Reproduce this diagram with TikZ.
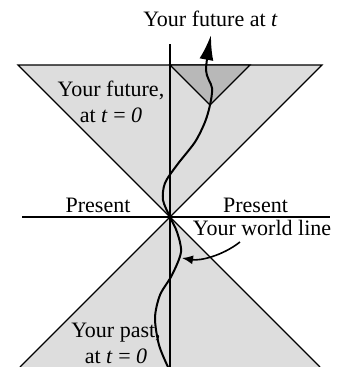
\documentclass[tikz,border=0pt]{standalone}
\usepackage{fontspec}
\setmainfont{Liberation Serif}
\usetikzlibrary{arrows.meta}

\definecolor{conelight}{RGB}{221,221,221}
\definecolor{conedark}{RGB}{184,184,184}

\begin{document}
\begin{tikzpicture}[x=1pt,y=-1pt,
cone/.style={draw,fill=conelight,line width=1.2pt,line join=miter},
axis/.style={line width=2.2pt},
lbl/.style={anchor=base,inner sep=0pt,font=\fontsize{22}{26}\selectfont,align=center},
wline/.style={line width=2pt,-{Latex[length=25pt,width=14pt]}},
arr/.style={line width=1.6pt,-{Latex[length=11pt,width=9pt]}}]
\useasboundingbox (0,0) rectangle (340,367);
\coordinate (origin) at (170,217);
\coordinate (later) at (210,105);
% light cones
\draw[cone] (origin) -- (18,65) -- (322,65) -- cycle;
\fill[conelight] (origin) -- (20,367) -- (320,367) -- cycle;
\draw[line width=1.2pt] (20,367) -- (origin) -- (320,367);
\draw[cone,fill=conedark] (later) -- (170,65) -- (250,65) -- cycle;
% axes
\draw[axis] (170,44) -- (170,367);
\draw[line width=1.8pt] (22,217) -- (330,217);
% world line
\draw[wline] plot[smooth] coordinates {(168,367) (159,345) (155,318) (160,295) (172,275)
  (181,252) (177,232) (origin) (163,200) (165,183) (177,165) (195,142) (205,122)
  (later) (212,88) (206,70) (211,35)};
% labels
\node[lbl] (futuret) at (210.5,26) {Your future at \textit{t}};
\node[lbl] (future0) at (111,122) {Your future,\\at \textit{t} = \textit{0}};
\node[lbl] (presl) at (98,212) {Present};
\node[lbl] (presr) at (255.5,212) {Present};
\node[lbl] (wl) at (262,235) {Your world line};
\node[lbl] (past0) at (116,363) {Your past,\\at \textit{t} = \textit{0}};
\coordinate (wltail) at (240,242);
\coordinate (wlhit) at (182,258);
\draw[arr] (wltail) .. controls (222,256) and (200,261) .. (wlhit);
\end{tikzpicture}
\end{document}
